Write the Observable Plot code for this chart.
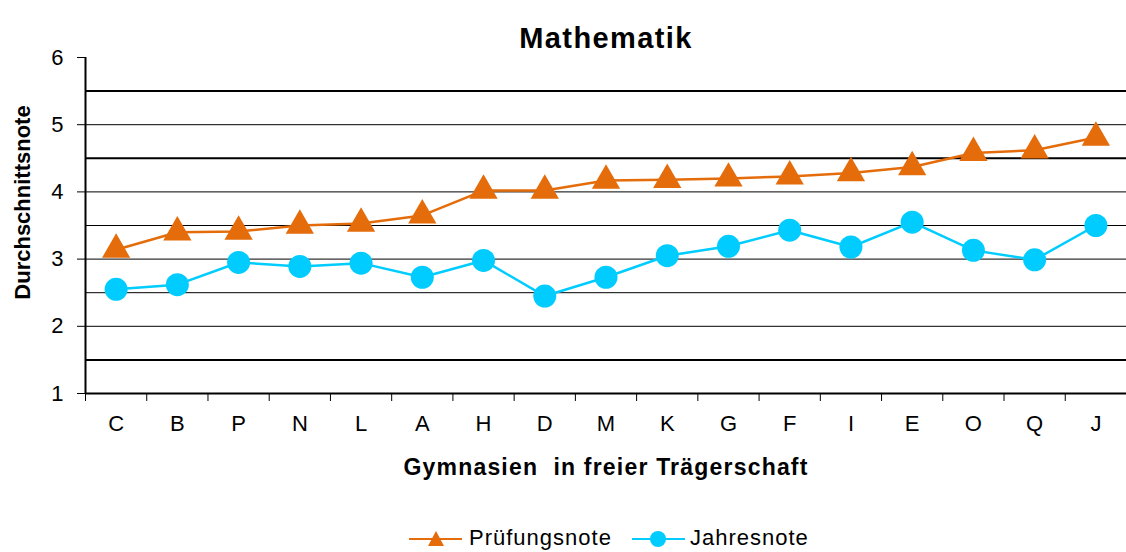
<!DOCTYPE html>
<html><head><meta charset="utf-8">
<script src="https://cdn.jsdelivr.net/npm/d3@7"></script>
<script src="https://cdn.jsdelivr.net/npm/@observablehq/plot@0.6"></script>
<style>
body{margin:0;background:#fff;font-family:"Liberation Sans",Arial,sans-serif;}
#wrap{position:relative;width:1126px;height:552px;overflow:hidden;}
.lg{position:absolute;font-size:22px;color:#000;letter-spacing:1px;line-height:22px;}
</style></head><body><div id="wrap"><div id="chart"></div></div>
<script>
const categories = ["C","B","P","N","L","A","H","D","M","K","G","F","I","E","O","Q","J"];
const pruefung = [3.14,3.40,3.41,3.50,3.53,3.65,4.02,4.02,4.17,4.18,4.20,4.23,4.28,4.37,4.58,4.62,4.81];
const jahres   = [2.55,2.62,2.95,2.89,2.94,2.73,2.98,2.45,2.73,3.05,3.19,3.43,3.18,3.55,3.13,2.99,3.50];
const seriesNames = ["Prüfungsnote","Jahresnote"];
const seriesColors = ["#E46C0A","#00CCFF"];
const yTicks = [1,2,3,4,5,6];
const gridThick = [1.5,4.5,5.5];
const gridThin = [2,2.5,3,3.5,4,5];
const titleText = "Mathematik";
const xTitle = "Gymnasien  in freier Trägerschaft";
const yTitle = "Durchschnittsnote";

const rowsP = categories.map((c,i)=>({i, c, v: pruefung[i]}));
const rowsJ = categories.map((c,i)=>({i, c, v: jahres[i]}));
const font = "'Liberation Sans', Arial, sans-serif";

const plot = Plot.plot({
  width:1126, height:510, marginTop:57, marginBottom:117, marginLeft:85, marginRight:0,
  style:{fontFamily:font, fontSize:"22px", color:"#000", background:"#fff", overflow:"visible"},
  x:{domain:[-0.5, categories.length-0.5]},
  y:{domain:[1,6]},
  marks:[
    Plot.ruleY(gridThin,{stroke:"#000", strokeWidth:1}),
    Plot.ruleY(gridThick,{stroke:"#000", strokeWidth:2}),
    Plot.ruleY([1],{stroke:"#000", strokeWidth:2}),
    Plot.ruleX([-0.5],{stroke:"#000", strokeWidth:2}),
    Plot.axisY({ticks:yTicks, tickSize:8, tickPadding:14, fontSize:22, label:null, tickFormat:d=>String(d), stroke:"#000"}),
    Plot.axisX({ticks:d3.range(-0.5, categories.length+0.5, 1), tickSize:8, tickFormat:()=>"", label:null, stroke:"#000"}),
    Plot.axisX({ticks:d3.range(categories.length), tickSize:0, tickPadding:22, tickFormat:i=>categories[i], fontSize:22, label:null}),
    Plot.line(rowsJ,{x:"i", y:"v", stroke:seriesColors[1], strokeWidth:2.5}),
    Plot.dot(rowsJ,{x:"i", y:"v", fill:seriesColors[1], r:11.5}),
    Plot.line(rowsP,{x:"i", y:"v", stroke:seriesColors[0], strokeWidth:2.5}),
    Plot.dot(rowsP,{x:"i", y:"v", fill:seriesColors[0], symbol:"triangle", r:10.5}),
    Plot.text([titleText],{frameAnchor:"top", dy:-30, fontSize:29, fontWeight:"bold", fill:"#000"}),
    Plot.text([xTitle],{frameAnchor:"bottom", dy:81, fontSize:23, fontWeight:"bold", fill:"#000"}),
    Plot.text([yTitle],{frameAnchor:"left", textAnchor:"middle", dx:-63, dy:-23, rotate:-90, fontSize:22, fontWeight:"bold", fill:"#000"})
  ]
});
d3.select(plot).selectAll("text").each(function(){
  const t = this.textContent;
  if (t === titleText) this.setAttribute("letter-spacing","1.4");
  if (t === xTitle) { this.setAttribute("letter-spacing","1.2"); this.setAttribute("xml:space","preserve"); this.style.whiteSpace="pre"; }
});
document.getElementById("chart").appendChild(plot);

// legend
const wrap = document.getElementById("wrap");
const lgX = [{line:409, text:469},{line:632, text:690}];
seriesNames.forEach((name,k)=>{
  const s = document.createElementNS("http://www.w3.org/2000/svg","svg");
  s.setAttribute("width","54"); s.setAttribute("height","20");
  s.style.position="absolute"; s.style.left=lgX[k].line+"px"; s.style.top="529px";
  let inner = `<line x1="0" x2="53" y1="10" y2="10" stroke="${seriesColors[k]}" stroke-width="2"/>`;
  if (k===0) inner += `<path d="M27,2 L35,17 L19,17 Z" fill="${seriesColors[k]}"/>`;
  else inner += `<circle cx="26" cy="10" r="8" fill="${seriesColors[k]}"/>`;
  s.innerHTML = inner;
  wrap.appendChild(s);
  const sp = document.createElement("div");
  sp.className="lg"; sp.textContent=name;
  sp.style.left=lgX[k].text+"px"; sp.style.top="527px";
  wrap.appendChild(sp);
});
</script></body></html>
